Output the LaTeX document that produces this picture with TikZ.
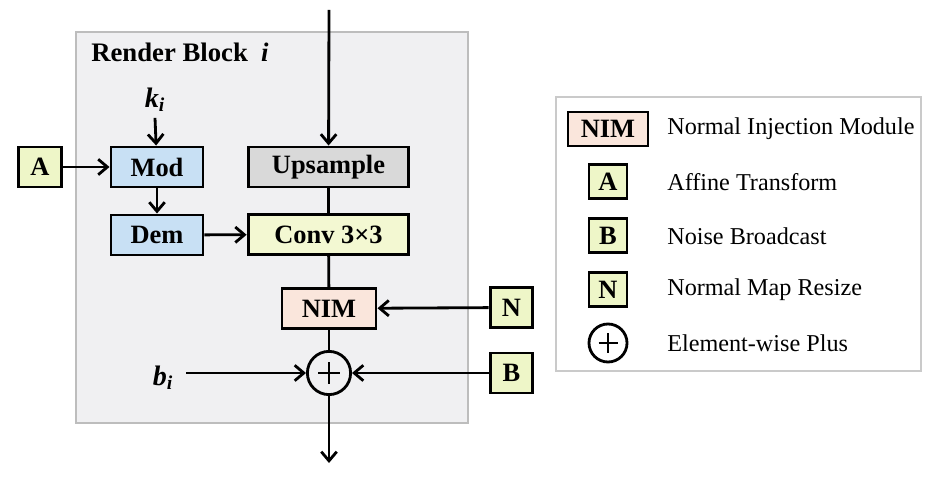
\documentclass[tikz,border=0pt]{standalone}
\usepackage{fontspec}
\setmainfont{Liberation Serif}
\usetikzlibrary{arrows.meta}

\definecolor{blockgray}{HTML}{F0F0F2}
\definecolor{blockedge}{HTML}{BDBDBD}
\definecolor{modblue}{HTML}{C8E0F4}
\definecolor{inyellow}{HTML}{EEF6C8}
\definecolor{convyellow}{HTML}{F3F8D2}
\definecolor{upgray}{HTML}{D9D9D9}
\definecolor{nimpeach}{HTML}{FAE6DC}

\tikzset{
  box/.style = {draw, line width=2.1pt, inner sep=0pt, font=\fontsize{18.8}{20}\selectfont\bfseries},
  inbox/.style = {box, fill=inyellow, minimum width=1.07cm, minimum height=1cm},
  plusnode/.style = {draw, circle, line width=2pt, inner sep=0pt, minimum size=#1,
    path picture={\draw[line width=1.6pt] ([xshift=-.25*#1]path picture bounding box.center) -- ([xshift=.25*#1]path picture bounding box.center);
      \draw[line width=1.6pt] ([yshift=-.25*#1]path picture bounding box.center) -- ([yshift=.25*#1]path picture bounding box.center);}},
  flow/.style = {line width=2pt, -{Straight Barb[length=6.5pt,width=11pt,line width=2pt]}},
  link/.style = {line width=2pt},
  legtext/.style = {anchor=west, inner sep=0pt, font=\fontsize{17.2}{19}\selectfont}
}

\begin{document}
\begin{tikzpicture}[x=0.025cm, y=-0.025cm]
\useasboundingbox (0,0) rectangle (937,477);

% render block
\draw[fill=blockgray, draw=blockedge, line width=2pt] (76,32) rectangle (468,423);
\node[anchor=base west, inner sep=0pt, font=\fontsize{19}{21}\selectfont\bfseries] (title) at (91,62) {Render Block\ \ \textit{i}};

\node[inner sep=0pt, font=\fontsize{20}{22}\selectfont\bfseries\itshape] (k) at (155,100) {k\textsubscript{i}};
\node[inner sep=0pt, font=\fontsize{20}{22}\selectfont\bfseries\itshape] (b) at (163,378) {b\textsubscript{i}};

\node[inbox] (A) at (40,167) {A};
\node[box, fill=modblue, minimum width=2.3cm, minimum height=1cm] (mod) at (157,167) {Mod};
\node[box, fill=modblue, minimum width=2.3cm, minimum height=1cm] (dem) at (157,235) {Dem};
\node[box, fill=upgray, minimum width=4.02cm, minimum height=1cm] (up) at (328.5,167) {Upsample};
\node[box, fill=convyellow, minimum width=4.02cm, minimum height=0.98cm] (conv) at (328.5,234.5) {Conv 3\texttimes3};
\node[box, fill=nimpeach, minimum width=2.35cm, minimum height=0.98cm] (nim) at (329,308.5) {NIM};
\node[plusnode=1.08cm] (plus) at (329,373) {};
\node[inbox] (N) at (511.5,307.5) {N};
\node[inbox] (B) at (511.5,373) {B};

\coordinate (in) at (329,10);
\coordinate (out) at (329,463);

\draw[flow] (in) -- (up);
\draw[link] (up) -- (conv);
\draw[link] (conv) -- (nim);
\draw[link] (nim) -- (plus);
\draw[flow] (plus) -- (out);
\draw[flow] ([yshift=-4pt]k.south) -- (mod);
\draw[flow] (A) -- (mod);
\draw[flow] (mod) -- (dem);
\draw[flow] (dem) -- (conv);
\draw[flow] (N) -- (nim);
\draw[flow] (B) -- (plus);
\draw[flow] ([xshift=9pt]b.east |- plus) -- (plus);

% legend
\draw[draw=blockedge!80, line width=0.9pt] (556,97) rectangle (921,371);
\node[box, fill=nimpeach, minimum width=2cm, minimum height=0.85cm] (lnim) at (608,129) {NIM};
\node[box, fill=inyellow, minimum width=0.95cm, minimum height=0.87cm] (la) at (608,181.5) {A};
\node[box, fill=inyellow, minimum width=0.95cm, minimum height=0.87cm] (lb) at (608,235.5) {B};
\node[box, fill=inyellow, minimum width=0.95cm, minimum height=0.87cm] (ln) at (608,289.5) {N};
\node[plusnode=0.95cm] (lplus) at (608,343) {};
\node[legtext] (tnim) at (667,129) {Normal Injection Module};
\node[legtext] (ta) at (667,182) {Affine Transform};
\node[legtext] (tb) at (667,236) {Noise Broadcast};
\node[legtext] (tn) at (667,290) {Normal Map Resize};
\node[legtext] (tplus) at (667,343) {Element-wise Plus};
\end{tikzpicture}
\end{document}
